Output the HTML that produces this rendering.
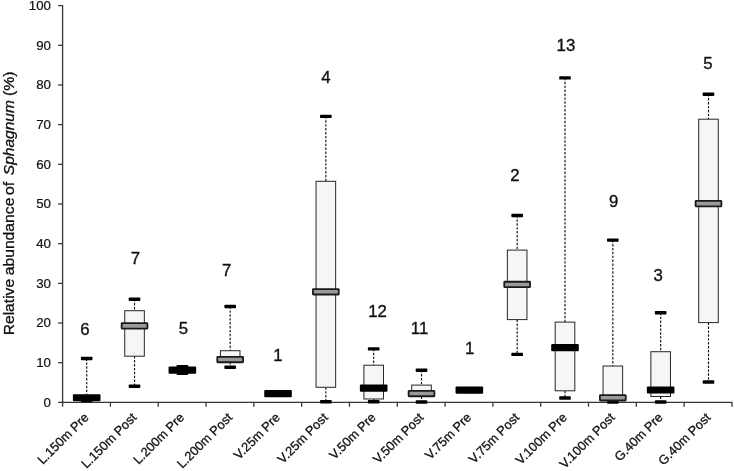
<!DOCTYPE html>
<html lang="en"><head><meta charset="utf-8"><title>Relative abundance of Sphagnum</title>
<style>html,body{margin:0;padding:0;background:#fff}svg{display:block}</style>
</head><body>
<svg width="734" height="471" viewBox="0 0 734 471" font-family="'Liberation Sans', sans-serif" fill="#111">
<rect width="734" height="471" fill="#fff"/>
<g stroke="#363636" stroke-width="1.3" fill="none">
<line x1="62.6" y1="4.95" x2="62.6" y2="406.7"/>
<line x1="58.2" y1="402.4" x2="732.5" y2="402.4"/>
<line x1="58.2" y1="362.72" x2="62.6" y2="362.72"/>
<line x1="58.2" y1="323.04" x2="62.6" y2="323.04"/>
<line x1="58.2" y1="283.36" x2="62.6" y2="283.36"/>
<line x1="58.2" y1="243.68" x2="62.6" y2="243.68"/>
<line x1="58.2" y1="204.00" x2="62.6" y2="204.00"/>
<line x1="58.2" y1="164.32" x2="62.6" y2="164.32"/>
<line x1="58.2" y1="124.64" x2="62.6" y2="124.64"/>
<line x1="58.2" y1="84.96" x2="62.6" y2="84.96"/>
<line x1="58.2" y1="45.28" x2="62.6" y2="45.28"/>
<line x1="58.2" y1="5.60" x2="62.6" y2="5.60"/>
<line x1="110.41" y1="402.4" x2="110.41" y2="406.7"/>
<line x1="158.22" y1="402.4" x2="158.22" y2="406.7"/>
<line x1="206.03" y1="402.4" x2="206.03" y2="406.7"/>
<line x1="253.84" y1="402.4" x2="253.84" y2="406.7"/>
<line x1="301.65" y1="402.4" x2="301.65" y2="406.7"/>
<line x1="349.46" y1="402.4" x2="349.46" y2="406.7"/>
<line x1="397.27" y1="402.4" x2="397.27" y2="406.7"/>
<line x1="445.08" y1="402.4" x2="445.08" y2="406.7"/>
<line x1="492.89" y1="402.4" x2="492.89" y2="406.7"/>
<line x1="540.70" y1="402.4" x2="540.70" y2="406.7"/>
<line x1="588.51" y1="402.4" x2="588.51" y2="406.7"/>
<line x1="636.32" y1="402.4" x2="636.32" y2="406.7"/>
<line x1="684.13" y1="402.4" x2="684.13" y2="406.7"/>
<line x1="731.94" y1="402.4" x2="731.94" y2="406.7"/>
</g>
<g font-size="13.3" text-anchor="end" stroke="#111" stroke-width="0.2">
<text x="51" y="406.80">0</text>
<text x="51" y="367.12">10</text>
<text x="51" y="327.44">20</text>
<text x="51" y="287.76">30</text>
<text x="51" y="248.08">40</text>
<text x="51" y="208.40">50</text>
<text x="51" y="168.72">60</text>
<text x="51" y="129.04">70</text>
<text x="51" y="89.36">80</text>
<text x="51" y="49.68">90</text>
<text x="51" y="10.00">100</text>
</g>
<g font-size="14.4" stroke="#111" stroke-width="0.3">
<text transform="translate(14.0 335.30) rotate(-90)" textLength="56.40" lengthAdjust="spacingAndGlyphs">Relative</text>
<text transform="translate(14.0 275.30) rotate(-90)" textLength="77.70" lengthAdjust="spacingAndGlyphs">abundance</text>
<text transform="translate(14.0 195.20) rotate(-90)" textLength="13.60" lengthAdjust="spacingAndGlyphs">of</text>
<text font-style="italic" transform="translate(14.0 175.20) rotate(-90)" textLength="75.10" lengthAdjust="spacingAndGlyphs">Sphagnum</text>
<text transform="translate(14.0 95.90) rotate(-90)" textLength="24.50" lengthAdjust="spacingAndGlyphs">(%)</text>
</g>
<g font-size="12.8" text-anchor="end" stroke="#111" stroke-width="0.3">
<text transform="translate(89.50 418.30) rotate(-45)">L.150m Pre</text>
<text transform="translate(137.33 418.30) rotate(-45)">L.150m Post</text>
<text transform="translate(185.16 418.30) rotate(-45)">L.200m Pre</text>
<text transform="translate(232.99 418.30) rotate(-45)">L.200m Post</text>
<text transform="translate(280.82 418.30) rotate(-45)">V.25m Pre</text>
<text transform="translate(328.65 418.30) rotate(-45)">V.25m Post</text>
<text transform="translate(376.48 418.30) rotate(-45)">V.50m Pre</text>
<text transform="translate(424.31 418.30) rotate(-45)">V.50m Post</text>
<text transform="translate(472.14 418.30) rotate(-45)">V.75m Pre</text>
<text transform="translate(519.97 418.30) rotate(-45)">V.75m Post</text>
<text transform="translate(567.80 418.30) rotate(-45)">V.100m Pre</text>
<text transform="translate(615.63 418.30) rotate(-45)">V.100m Post</text>
<text transform="translate(663.46 418.30) rotate(-45)">G.40m Pre</text>
<text transform="translate(711.29 418.30) rotate(-45)">G.40m Post</text>
</g>
<g><line x1="86.70" y1="358.50" x2="86.70" y2="394.15" stroke="#111" stroke-width="1.15" stroke-dasharray="2.4 1.5"/><rect x="80.90" y="356.80" width="11.6" height="3.4" rx="0.7" fill="#000"/><rect x="80.90" y="398.90" width="11.6" height="3.4" rx="0.7" fill="#000"/><rect x="72.90" y="394.15" width="27.6" height="7.20" rx="1" fill="#000"/></g>
<g><line x1="134.53" y1="299.20" x2="134.53" y2="310.70" stroke="#111" stroke-width="1.15" stroke-dasharray="2.4 1.5"/><line x1="134.53" y1="356.20" x2="134.53" y2="386.30" stroke="#111" stroke-width="1.15" stroke-dasharray="2.4 1.5"/><rect x="124.73" y="310.70" width="19.6" height="45.50" fill="#f6f6f6" stroke="#262626" stroke-width="1"/><rect x="128.73" y="297.50" width="11.6" height="3.4" rx="0.7" fill="#000"/><rect x="128.73" y="384.60" width="11.6" height="3.4" rx="0.7" fill="#000"/><rect x="121.63" y="323.15" width="25.8" height="5.40" rx="0.5" fill="#9a9a9a" stroke="#1a1a1a" stroke-width="1.8"/></g>
<g><rect x="176.56" y="364.90" width="11.6" height="3.4" rx="0.7" fill="#000"/><rect x="176.56" y="371.60" width="11.6" height="3.4" rx="0.7" fill="#000"/><rect x="168.56" y="366.50" width="27.6" height="7.20" rx="1" fill="#000"/></g>
<g><line x1="230.19" y1="306.50" x2="230.19" y2="350.70" stroke="#111" stroke-width="1.15" stroke-dasharray="2.4 1.5"/><line x1="230.19" y1="362.00" x2="230.19" y2="367.20" stroke="#111" stroke-width="1.15" stroke-dasharray="2.4 1.5"/><rect x="220.39" y="350.70" width="19.6" height="11.30" fill="#f6f6f6" stroke="#262626" stroke-width="1"/><rect x="224.39" y="304.80" width="11.6" height="3.4" rx="0.7" fill="#000"/><rect x="224.39" y="365.50" width="11.6" height="3.4" rx="0.7" fill="#000"/><rect x="217.29" y="356.85" width="25.8" height="5.40" rx="0.5" fill="#9a9a9a" stroke="#1a1a1a" stroke-width="1.8"/></g>
<g><rect x="264.22" y="389.95" width="27.6" height="7.20" rx="1" fill="#000"/></g>
<g><line x1="325.85" y1="116.40" x2="325.85" y2="181.30" stroke="#111" stroke-width="1.15" stroke-dasharray="2.4 1.5"/><line x1="325.85" y1="387.30" x2="325.85" y2="401.80" stroke="#111" stroke-width="1.15" stroke-dasharray="2.4 1.5"/><rect x="316.05" y="181.30" width="19.6" height="206.00" fill="#f6f6f6" stroke="#262626" stroke-width="1"/><rect x="320.05" y="114.70" width="11.6" height="3.4" rx="0.7" fill="#000"/><rect x="320.05" y="400.10" width="11.6" height="3.4" rx="0.7" fill="#000"/><rect x="312.95" y="289.10" width="25.8" height="5.40" rx="0.5" fill="#9a9a9a" stroke="#1a1a1a" stroke-width="1.8"/></g>
<g><line x1="373.68" y1="348.90" x2="373.68" y2="365.20" stroke="#111" stroke-width="1.15" stroke-dasharray="2.4 1.5"/><line x1="373.68" y1="399.00" x2="373.68" y2="401.80" stroke="#111" stroke-width="1.15" stroke-dasharray="2.4 1.5"/><rect x="363.88" y="365.20" width="19.6" height="33.80" fill="#f6f6f6" stroke="#262626" stroke-width="1"/><rect x="367.88" y="347.20" width="11.6" height="3.4" rx="0.7" fill="#000"/><rect x="367.88" y="400.10" width="11.6" height="3.4" rx="0.7" fill="#000"/><rect x="359.88" y="384.45" width="27.6" height="7.20" rx="1" fill="#000"/></g>
<g><line x1="421.51" y1="370.20" x2="421.51" y2="385.10" stroke="#111" stroke-width="1.15" stroke-dasharray="2.4 1.5"/><line x1="421.51" y1="396.50" x2="421.51" y2="402.00" stroke="#111" stroke-width="1.15" stroke-dasharray="2.4 1.5"/><rect x="411.71" y="385.10" width="19.6" height="11.40" fill="#f6f6f6" stroke="#262626" stroke-width="1"/><rect x="415.71" y="368.50" width="11.6" height="3.4" rx="0.7" fill="#000"/><rect x="415.71" y="400.30" width="11.6" height="3.4" rx="0.7" fill="#000"/><rect x="408.61" y="390.85" width="25.8" height="5.40" rx="0.5" fill="#9a9a9a" stroke="#1a1a1a" stroke-width="1.8"/></g>
<g><rect x="455.54" y="386.55" width="27.6" height="7.20" rx="1" fill="#000"/></g>
<g><line x1="517.17" y1="215.50" x2="517.17" y2="250.10" stroke="#111" stroke-width="1.15" stroke-dasharray="2.4 1.5"/><line x1="517.17" y1="319.60" x2="517.17" y2="354.40" stroke="#111" stroke-width="1.15" stroke-dasharray="2.4 1.5"/><rect x="507.37" y="250.10" width="19.6" height="69.50" fill="#f6f6f6" stroke="#262626" stroke-width="1"/><rect x="511.37" y="213.80" width="11.6" height="3.4" rx="0.7" fill="#000"/><rect x="511.37" y="352.70" width="11.6" height="3.4" rx="0.7" fill="#000"/><rect x="504.27" y="281.75" width="25.8" height="5.40" rx="0.5" fill="#9a9a9a" stroke="#1a1a1a" stroke-width="1.8"/></g>
<g><line x1="565.00" y1="77.90" x2="565.00" y2="322.10" stroke="#111" stroke-width="1.15" stroke-dasharray="2.4 1.5"/><line x1="565.00" y1="390.80" x2="565.00" y2="398.00" stroke="#111" stroke-width="1.15" stroke-dasharray="2.4 1.5"/><rect x="555.20" y="322.10" width="19.6" height="68.70" fill="#f6f6f6" stroke="#262626" stroke-width="1"/><rect x="559.20" y="76.20" width="11.6" height="3.4" rx="0.7" fill="#000"/><rect x="559.20" y="396.30" width="11.6" height="3.4" rx="0.7" fill="#000"/><rect x="551.20" y="344.05" width="27.6" height="7.20" rx="1" fill="#000"/></g>
<g><line x1="612.83" y1="240.10" x2="612.83" y2="366.00" stroke="#111" stroke-width="1.15" stroke-dasharray="2.4 1.5"/><line x1="612.83" y1="400.00" x2="612.83" y2="402.00" stroke="#111" stroke-width="1.15" stroke-dasharray="2.4 1.5"/><rect x="603.03" y="366.00" width="19.6" height="34.00" fill="#f6f6f6" stroke="#262626" stroke-width="1"/><rect x="607.03" y="238.40" width="11.6" height="3.4" rx="0.7" fill="#000"/><rect x="607.03" y="400.30" width="11.6" height="3.4" rx="0.7" fill="#000"/><rect x="599.93" y="395.10" width="25.8" height="5.40" rx="0.5" fill="#9a9a9a" stroke="#1a1a1a" stroke-width="1.8"/></g>
<g><line x1="660.66" y1="312.80" x2="660.66" y2="351.70" stroke="#111" stroke-width="1.15" stroke-dasharray="2.4 1.5"/><line x1="660.66" y1="396.50" x2="660.66" y2="402.00" stroke="#111" stroke-width="1.15" stroke-dasharray="2.4 1.5"/><rect x="650.86" y="351.70" width="19.6" height="44.80" fill="#f6f6f6" stroke="#262626" stroke-width="1"/><rect x="654.86" y="311.10" width="11.6" height="3.4" rx="0.7" fill="#000"/><rect x="654.86" y="400.30" width="11.6" height="3.4" rx="0.7" fill="#000"/><rect x="646.86" y="386.40" width="27.6" height="7.20" rx="1" fill="#000"/></g>
<g><line x1="708.49" y1="94.20" x2="708.49" y2="119.20" stroke="#111" stroke-width="1.15" stroke-dasharray="2.4 1.5"/><line x1="708.49" y1="322.60" x2="708.49" y2="382.00" stroke="#111" stroke-width="1.15" stroke-dasharray="2.4 1.5"/><rect x="698.69" y="119.20" width="19.6" height="203.40" fill="#f6f6f6" stroke="#262626" stroke-width="1"/><rect x="702.69" y="92.50" width="11.6" height="3.4" rx="0.7" fill="#000"/><rect x="702.69" y="380.30" width="11.6" height="3.4" rx="0.7" fill="#000"/><rect x="695.59" y="200.90" width="25.8" height="5.40" rx="0.5" fill="#9a9a9a" stroke="#1a1a1a" stroke-width="1.8"/></g>
<g font-size="16.8" text-anchor="middle" stroke="#111" stroke-width="0.35">
<text x="84.80" y="334.60">6</text>
<text x="135.50" y="264.00">7</text>
<text x="183.45" y="333.80">5</text>
<text x="226.70" y="275.60">7</text>
<text x="278.00" y="361.40">1</text>
<text x="325.85" y="83.10">4</text>
<text x="377.50" y="316.80">12</text>
<text x="419.55" y="333.90">11</text>
<text x="469.70" y="354.00">1</text>
<text x="515.00" y="180.50">2</text>
<text x="565.90" y="50.90">13</text>
<text x="613.70" y="207.00">9</text>
<text x="658.10" y="281.00">3</text>
<text x="707.95" y="68.80">5</text>
</g>
</svg>
</body></html>
